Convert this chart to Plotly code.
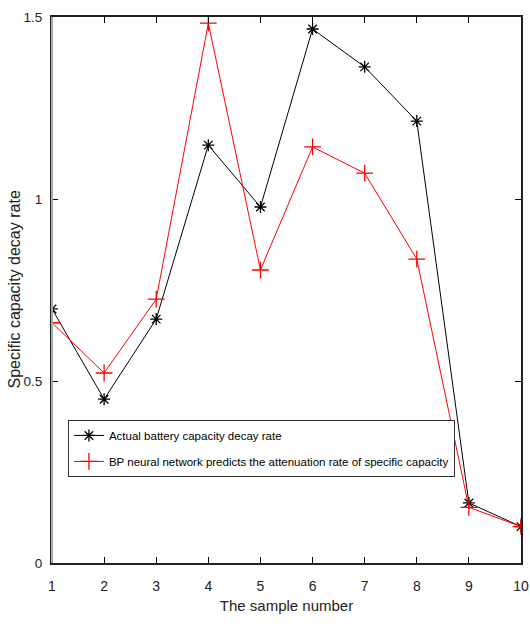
import plotly.graph_objects as go

samples = [1, 2, 3, 4, 5, 6, 7, 8, 9, 10]
actual = [0.698, 0.45, 0.67, 1.148, 0.978, 1.467, 1.363, 1.214, 0.165, 0.10]
predicted = [0.66, 0.522, 0.725, 1.483, 0.805, 1.143, 1.071, 0.835, 0.153, 0.10]
y_ticks = [0, 0.5, 1, 1.5]
y_tick_labels = ["0", "0.5", "1", "1.5"]

sans = "Liberation Sans, Arial, sans-serif"

fig = go.Figure()
fig.add_trace(go.Scatter(
    x=samples, y=actual, mode="lines+markers",
    name="Actual battery capacity decay rate", legendgroup="a",
    line=dict(color="black", width=1),
    marker=dict(symbol="asterisk-open", size=10, color="black", line=dict(width=1.3, color="black")),
))
fig.add_trace(go.Scatter(
    x=samples, y=predicted, mode="lines+markers",
    name="BP neural network predicts the attenuation rate of specific capacity", legendgroup="b",
    line=dict(color="red", width=1),
    marker=dict(symbol="cross-thin-open", size=12, color="red", line=dict(width=1.3, color="red")),
))

fig.update_layout(
    width=530, height=628,
    margin=dict(l=52, r=9, t=17, b=65, autoexpand=False),
    plot_bgcolor="white", paper_bgcolor="white",
    font=dict(family=sans, size=14, color="#222"),
    legend=dict(
        x=0.034, y=0.262, xanchor="left", yanchor="top",
        bgcolor="white", bordercolor="#333", borderwidth=1,
        font=dict(family=sans, size=11.5, color="black"),
        tracegroupgap=7, itemwidth=30,
    ),
    xaxis=dict(
        range=[1, 10], tickvals=samples, ticks="inside", ticklen=6,
        tickcolor="black", showline=True, linecolor="#222", linewidth=2,
        mirror="ticks", showgrid=False, zeroline=False,
        ticklabeloverflow="allow", ticklabelstandoff=9,
        title=dict(text="The sample number", font=dict(family=sans, size=15, color="#222"), standoff=8),
        tickfont=dict(family=sans, size=14, color="#222"),
    ),
    yaxis=dict(
        range=[0, 1.5], tickvals=y_ticks, ticktext=y_tick_labels, ticks="inside", ticklen=6,
        tickcolor="black", showline=True, linecolor="#222", linewidth=2,
        mirror="ticks", showgrid=False, zeroline=False,
        ticklabelstandoff=5,
        tickfont=dict(family=sans, size=13.5, color="#222"),
    ),
)
fig.add_annotation(text="Specific capacity decay rate", xref="paper", yref="paper",
                   x=-0.082, y=0.5, xanchor="center", yanchor="middle", textangle=-90,
                   showarrow=False, font=dict(family=sans, size=16, color="#222"))
fig.add_shape(type="line", xref="paper", yref="paper", x0=0, x1=0, y0=0, y1=1,
              line=dict(color="#aaaaaa", width=2), layer="above")

fig.write_html("out.html", config={"displayModeBar": False},
               post_script="document.body.style.margin='0';document.body.style.padding='0';")
